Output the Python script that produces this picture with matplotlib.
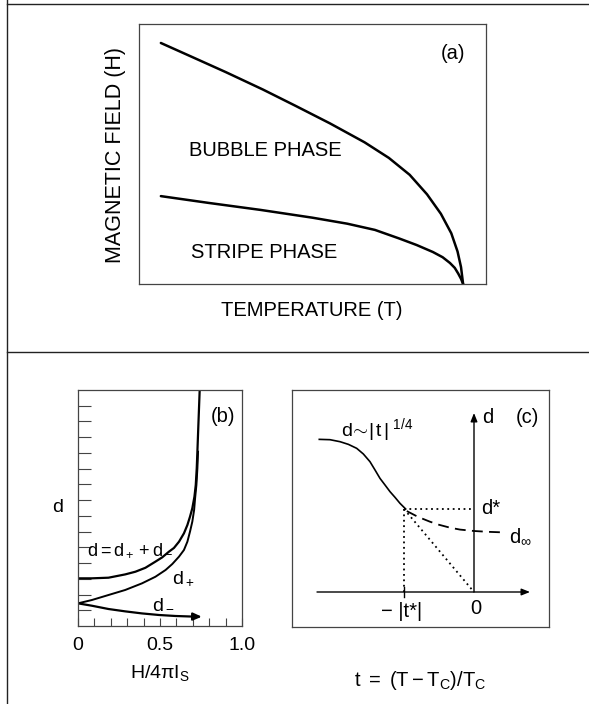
import matplotlib
matplotlib.use("Agg")
import matplotlib.pyplot as plt
from matplotlib.lines import Line2D
import numpy as np

plt.rcParams['font.family'] = ['Liberation Sans', 'DejaVu Sans']
plt.rcParams['mathtext.fontset'] = 'custom'
plt.rcParams['mathtext.rm'] = 'Liberation Sans'
plt.rcParams['mathtext.it'] = 'Liberation Sans'
plt.rcParams['mathtext.sf'] = 'Liberation Sans'

# ---------------- data ----------------
# (a) phase diagram (normalised T, H)
a_upper_T = [0.063, 0.15, 0.25, 0.357, 0.45, 0.55, 0.65, 0.72, 0.78, 0.83, 0.87, 0.90, 0.918, 0.928, 0.934]
a_upper_H = [0.927, 0.875, 0.815, 0.748, 0.686, 0.618, 0.545, 0.485, 0.42, 0.345, 0.27, 0.195, 0.125, 0.065, 0.0]
a_lower_T = [0.063, 0.2, 0.35, 0.5, 0.6, 0.68, 0.75, 0.8, 0.847, 0.875, 0.896, 0.91, 0.92, 0.928, 0.934]
a_lower_H = [0.338, 0.312, 0.285, 0.255, 0.232, 0.208, 0.175, 0.15, 0.123, 0.103, 0.081, 0.062, 0.04, 0.02, 0.0]

# (b) d vs H/4πIs
b_x_tot = [0.0, 0.084, 0.186, 0.288, 0.35, 0.411, 0.472, 0.513, 0.554, 0.585, 0.616, 0.646, 0.667,
           0.683, 0.697, 0.710, 0.718, 0.724, 0.728, 0.734, 0.742]
b_d_tot = [3.03, 3.03, 3.07, 3.28, 3.45, 3.70, 4.09, 4.36, 4.72, 4.96, 5.36, 5.89, 6.42,
           6.95, 7.48, 8.22, 8.96, 10.02, 11.08, 12.78, 15.0]
b_x_plus = [0.0, 0.084, 0.186, 0.288, 0.39, 0.472, 0.534, 0.575, 0.616, 0.646, 0.667, 0.683, 0.697,
            0.708, 0.714, 0.722, 0.728, 0.732]
b_d_plus = [1.44, 1.65, 1.97, 2.29, 2.71, 3.13, 3.56, 3.94, 4.41, 4.83, 5.36, 6.0, 6.63,
            7.37, 8.12, 8.96, 10.02, 11.08]
b_x_minus = [0.0, 0.084, 0.186, 0.288, 0.39, 0.493, 0.595, 0.697, 0.755]
b_d_minus = [1.44, 1.29, 1.08, 0.93, 0.80, 0.70, 0.636, 0.60, 0.59]
b_xtick_labels = ['0', '0.5', '1.0']

# (c) d vs t
c_t = [-2.21, -2.057, -1.914, -1.795, -1.676, -1.581, -1.486, -1.414, -1.343, -1.271, -1.2,
       -1.129, -1.057, -0.976]
c_d = [1.839, 1.835, 1.811, 1.779, 1.731, 1.663, 1.570, 1.470, 1.369, 1.289, 1.209,
       1.141, 1.068, 1.0]
c_t_inf = [-0.96, -0.8, -0.629, -0.5, -0.343, -0.2, 0.0, 0.2, 0.396]
c_d_inf = [0.975, 0.905, 0.847, 0.81, 0.775, 0.752, 0.735, 0.725, 0.719]
c_tstar = -1.0
c_dstar = 1.0

W, H = 589, 704
fig = plt.figure(figsize=(W/100, H/100), dpi=100)

def fx(px):
    return px / W

def fy(py):
    return 1 - py / H

# frame lines
for (x0, y0, x1, y1) in [(7, 4, 589, 4), (7, 352, 589, 352), (7, 0, 7, 704)]:
    fig.add_artist(Line2D([fx(x0), fx(x1)], [fy(y0), fy(y1)], color='#222222', lw=1.0))

edge = '#444444'
FS = 14
FSA = 14.5

# ---------------- (a) ----------------
axa = fig.add_axes([fx(139), fy(284), fx(486) - fx(139), fy(24) - fy(284)])
axa.plot(a_upper_T, a_upper_H, color='black', lw=1.8, solid_capstyle='round', solid_joinstyle='round')
axa.plot(a_lower_T, a_lower_H, color='black', lw=1.8, solid_capstyle='round', solid_joinstyle='round')
axa.set_xlim(0, 1)
axa.set_ylim(0, 1)
axa.set_xticks([])
axa.set_yticks([])
for s in axa.spines.values():
    s.set_color(edge)
    s.set_linewidth(0.9)
axa.text(0.906, 0.885, '(a)', transform=axa.transAxes, ha='center', va='center', fontsize=FSA)
axa.text(0.363, 0.515, 'BUBBLE PHASE', transform=axa.transAxes, ha='center', va='center', fontsize=FSA)
axa.text(0.36, 0.123, 'STRIPE PHASE', transform=axa.transAxes, ha='center', va='center', fontsize=FSA)
fig.text(fx(116), fy(155), 'MAGNETIC FIELD (H)', rotation=90, ha='center', va='center', fontsize=15.5)
fig.text(fx(312), fy(310), 'TEMPERATURE (T)', ha='center', va='center', fontsize=FSA)

# ---------------- (b) ----------------
axb = fig.add_axes([fx(78), fy(626), fx(242) - fx(78), fy(390) - fy(626)])
axb.plot(b_x_tot, b_d_tot, color='black', lw=1.6, solid_joinstyle='round')
axb.plot(b_x_plus, b_d_plus, color='black', lw=1.4, solid_joinstyle='round')
axb.plot(b_x_minus[:-1], b_d_minus[:-1], color='black', lw=1.6, solid_joinstyle='round')
axb.annotate('', xy=(b_x_minus[-1], b_d_minus[-1]), xytext=(b_x_minus[-2], b_d_minus[-2]),
             arrowprops=dict(arrowstyle='-|>,head_length=0.5,head_width=0.22', color='black', lw=1.6,
                             shrinkA=0, shrinkB=0))
axb.set_xlim(0, 1.0)
axb.set_ylim(0, 15)
axb.set_xticks([0, 0.5, 1.0])
axb.set_xticklabels(b_xtick_labels, fontsize=FS)
axb.set_xticks(np.arange(1, 10) / 10, minor=True)
axb.set_yticks(np.arange(1, 15))
axb.set_yticklabels([])
axb.tick_params(axis='x', which='both', direction='in', length=6, width=0.8, color=edge, pad=8)
axb.tick_params(axis='y', which='both', direction='in', length=9, width=0.8, color=edge)
for s in axb.spines.values():
    s.set_color(edge)
    s.set_linewidth(0.9)
axb.text(0.886, 13.3, '(b)', ha='center', va='center', fontsize=FSA)
axb.text(0.055, 4.8, r'$\mathrm{d = d_+ + d_-}$', ha='left', va='center', fontsize=13)
axb.text(0.575, 3.05, r'$\mathrm{d_+}$', ha='left', va='center', fontsize=FS)
axb.text(0.45, 1.45, r'$\mathrm{d_-}$', ha='left', va='center', fontsize=FS)
fig.text(fx(58), fy(507), 'd', ha='center', va='center', fontsize=FS)
fig.text(fx(160), fy(673), r'$\mathrm{H/4\pi I_S}$', ha='center', va='center', fontsize=FS)

# ---------------- (c) ----------------
# data units: t = (px-474)/70 ; d = (592-py)/83
axc = fig.add_axes([fx(292), fy(627), fx(549) - fx(292), fy(390) - fy(627)])
axc.set_xlim((292 - 474) / 70, (549 - 474) / 70)
axc.set_ylim((592 - 627) / 83, (592 - 390) / 83)
axc.set_xticks([])
axc.set_yticks([])
for s in axc.spines.values():
    s.set_color(edge)
    s.set_linewidth(0.9)
# axes arrows
axc.annotate('', xy=((530 - 474) / 70, 0), xytext=((317 - 474) / 70, 0),
             arrowprops=dict(arrowstyle='-|>,head_length=0.5,head_width=0.2', color='black', lw=1.0,
                             shrinkA=0, shrinkB=0))
axc.annotate('', xy=(0, (592 - 413) / 83), xytext=(0, 0),
             arrowprops=dict(arrowstyle='-|>,head_length=0.5,head_width=0.2', color='black', lw=1.0,
                             shrinkA=0, shrinkB=0))
axc.plot([c_tstar, c_tstar], [-0.065, 0.065], color='black', lw=1.0)
axc.plot(c_t, c_d, color='black', lw=1.2, solid_joinstyle='round')
axc.plot(c_t_inf, c_d_inf, color='black', lw=1.3, dashes=(6, 3.5))
axc.plot([c_tstar, 0], [c_dstar, c_dstar], color='black', lw=1.3, linestyle=(0, (1, 2)))
axc.plot([c_tstar, c_tstar], [c_dstar, 0], color='black', lw=1.3, linestyle=(0, (1, 2)))
axc.plot([c_tstar, 0], [c_dstar, 0], color='black', lw=1.3, linestyle=(0, (1, 2)))
axc.text(-1.9, 1.95, r'$\mathrm{d\!\sim\!|\,t\,|^{\ 1/4}}$', ha='left', va='center', fontsize=FS)
axc.text(0.11, 2.1, 'd', ha='left', va='center', fontsize=FSA)
axc.text(0.757, 2.108, '(c)', ha='center', va='center', fontsize=FSA)
axc.text(0.1, 1.0, 'd*', ha='left', va='center', fontsize=FSA)
axc.text(0.5, 0.66, r'$\mathrm{d_{\infty}}$', ha='left', va='center', fontsize=FSA)
axc.text(-1.04, -0.237, '− |t*|', ha='center', va='center', fontsize=FSA)
axc.text(0.03, -0.2, '0', ha='center', va='center', fontsize=FSA)
fig.text(fx(420), fy(680), r'$\mathrm{t\ =\ (T-T_C)/T_C}$', ha='center', va='center', fontsize=FSA)

fig.savefig('out.png', dpi=100)
